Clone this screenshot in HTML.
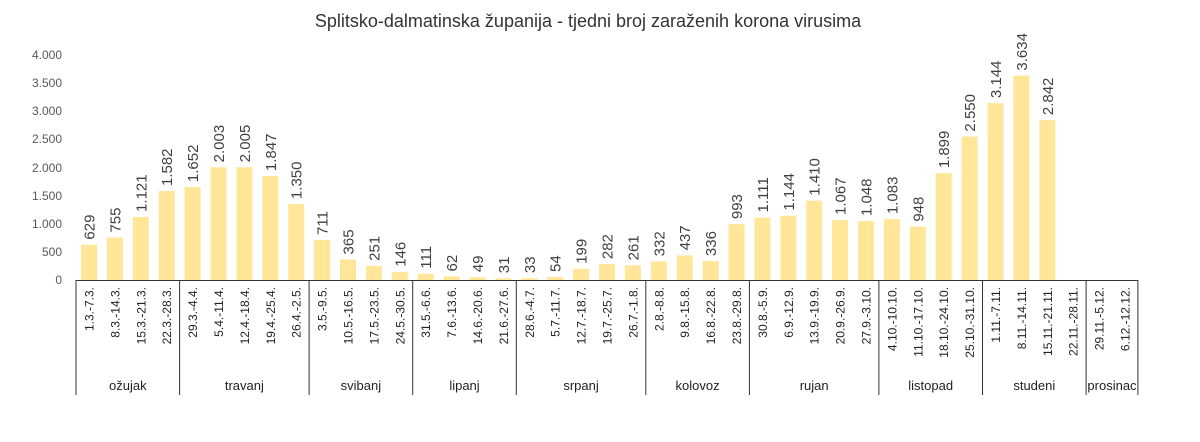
<!DOCTYPE html>
<html><head><meta charset="utf-8"><style>body{margin:0;background:#fff}svg{display:block}</style></head>
<body>
<svg id="c" width="1200" height="442" xmlns="http://www.w3.org/2000/svg" font-family="Liberation Sans, sans-serif">
<text x="588" y="27" text-anchor="middle" font-size="18" fill="#333">Splitsko-dalmatinska županija - tjedni broj zaraženih korona virusima</text>
<g font-size="12" fill="#595959" text-anchor="end">
<text x="62" y="284">0</text><text x="62" y="256">500</text><text x="62" y="228">1.000</text><text x="62" y="200">1.500</text><text x="62" y="172">2.000</text><text x="62" y="143">2.500</text><text x="62" y="115">3.000</text><text x="62" y="87">3.500</text><text x="62" y="59">4.000</text>
</g>
<g id="g"></g>
<line x1="76" y1="280.5" x2="1138" y2="280.5" stroke="#333" stroke-width="1"/>
</svg>
<script>
var d=[629,755,1121,1582,1652,2003,2005,1847,1350,711,365,251,146,111,62,49,31,33,54,199,282,261,332,437,336,993,1111,1144,1410,1067,1048,1083,948,1899,2550,3144,3634,2842,null,null,null];
var L="1.3.-7.3.,8.3.-14.3.,15.3.-21.3.,22.3.-28.3.,29.3.-4.4.,5.4.-11.4.,12.4.-18.4.,19.4.-25.4.,26.4.-2.5.,3.5.-9.5.,10.5.-16.5.,17.5.-23.5.,24.5.-30.5.,31.5.-6.6.,7.6.-13.6.,14.6.-20.6.,21.6.-27.6.,28.6.-4.7.,5.7.-11.7.,12.7.-18.7.,19.7.-25.7.,26.7.-1.8.,2.8.-8.8.,9.8.-15.8.,16.8.-22.8.,23.8.-29.8.,30.8.-5.9.,6.9.-12.9.,13.9.-19.9.,20.9.-26.9.,27.9.-3.10.,4.10.-10.10.,11.10.-17.10.,18.10.-24.10.,25.10.-31.10.,1.11.-7.11.,8.11.-14.11.,15.11.-21.11.,22.11.-28.11.,29.11.-5.12.,6.12.-12.12.".split(",");
var M=[["ožujak",0,4],["travanj",4,9],["svibanj",9,13],["lipanj",13,17],["srpanj",17,22],["kolovoz",22,26],["rujan",26,31],["listopad",31,35],["studeni",35,39],["prosinac",39,41]];
var s="",st=25.9,y0=280,k=225/4000;
function f(v){var t=String(v);return t.length>3?t.slice(0,-3)+"."+t.slice(-3):t;}
for(var i=0;i<41;i++){var cx=89+i*st;
 if(d[i]!=null){var h=d[i]*k;s+='<rect x="'+(cx-8)+'" y="'+(y0-h)+'" width="16" height="'+h+'" fill="#FFE699"/>';
 var ty=y0-h-5;s+='<text transform="translate('+(cx+5.5)+','+ty+') rotate(-90)" font-size="15" fill="#404040">'+f(d[i])+'</text>';}
 s+='<text transform="translate('+(cx+4.5)+',287) rotate(-90)" text-anchor="end" font-size="12" fill="#222">'+L[i]+'</text>';}
M.forEach(function(m){var a=76+m[1]*st,b=76+m[2]*st;
 s+='<line x1="'+a+'" y1="280" x2="'+a+'" y2="395" stroke="#333"/>';
 s+='<text x="'+((a+b)/2)+'" y="390" text-anchor="middle" font-size="13" fill="#222">'+m[0]+'</text>';});
var e=76+41*st;s+='<line x1="'+e+'" y1="280" x2="'+e+'" y2="395" stroke="#333"/>';
document.getElementById("g").innerHTML=s;
</script>
</body></html>
